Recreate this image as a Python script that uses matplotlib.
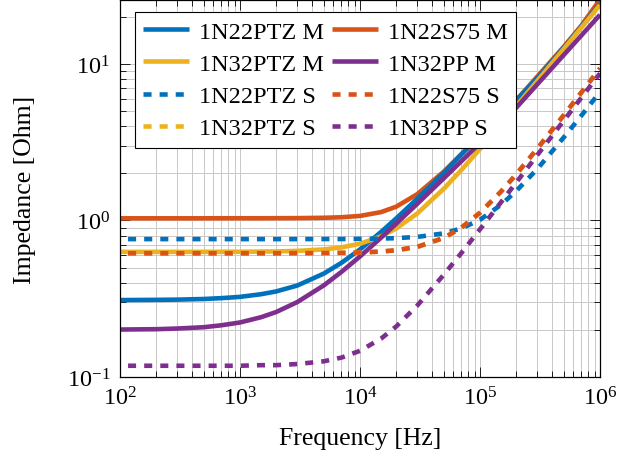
import matplotlib.pyplot as plt
from matplotlib.lines import Line2D

plt.rcParams['font.family'] = 'serif'
plt.rcParams['font.serif'] = ['Liberation Serif', 'DejaVu Serif']
plt.rcParams['mathtext.fontset'] = 'stix'
plt.rcParams['lines.scale_dashes'] = False

# frequency points [Hz]
freq = [1e2, 2e2, 3e2, 5e2, 7e2, 1e3, 1.5e3, 2e3, 3e3, 5e3, 7e3, 1e4,
        1.5e4, 2e4, 3e4, 5e4, 7e4, 1e5, 1.5e5, 2e5, 3e5, 5e5, 7e5, 1e6]

# impedance [Ohm], M = measured, S = simulated
n22ptz_m = [0.310, 0.311, 0.312, 0.315, 0.319, 0.325, 0.338, 0.352, 0.384, 0.458, 0.536, 0.653,
            0.845, 1.029, 1.375, 2.02, 2.64, 3.48, 4.72, 5.85, 8.1, 12.7, 17.3, 24.2]
n22s75_m = [1.032, 1.032, 1.032, 1.032, 1.033, 1.033, 1.033, 1.034, 1.035, 1.040, 1.048, 1.069,
            1.131, 1.224, 1.472, 2.053, 2.655, 3.487, 4.725, 5.853, 8.3, 12.9, 17.6, 25.8]
n32ptz_m = [0.630, 0.630, 0.630, 0.630, 0.631, 0.631, 0.633, 0.634, 0.639, 0.653, 0.673, 0.710,
            0.791, 0.888, 1.108, 1.597, 2.102, 2.864, 4.122, 5.362, 7.79, 12.5, 17.08, 23.8]
n32pp_m = [0.201, 0.202, 0.204, 0.208, 0.214, 0.223, 0.241, 0.260, 0.301, 0.385, 0.469, 0.589,
           0.777, 0.953, 1.278, 1.863, 2.391, 3.12, 4.225, 5.241, 7.40, 11.43, 15.21, 20.6]

n22ptz_s = [0.760, 0.760, 0.760, 0.760, 0.760, 0.760, 0.760, 0.760, 0.760, 0.761, 0.761, 0.763,
            0.766, 0.771, 0.785, 0.827, 0.890, 1.01, 1.26, 1.54, 2.13, 3.40, 4.68, 6.62]
n22s75_s = [0.617, 0.617, 0.617, 0.617, 0.617, 0.617, 0.617, 0.617, 0.618, 0.619, 0.621, 0.624,
            0.633, 0.645, 0.678, 0.774, 0.900, 1.120, 1.532, 1.969, 2.872, 4.716, 6.574, 9.37]
n32ptz_s = [0.617, 0.617, 0.617, 0.617, 0.617, 0.617, 0.617, 0.617, 0.618, 0.619, 0.621, 0.624,
            0.633, 0.645, 0.678, 0.774, 0.900, 1.120, 1.532, 1.969, 2.872, 4.716, 6.574, 9.37]
n32pp_s = [0.118, 0.118, 0.118, 0.118, 0.118, 0.118, 0.119, 0.119, 0.121, 0.126, 0.133, 0.147,
           0.176, 0.210, 0.286, 0.451, 0.620, 0.878, 1.310, 1.744, 2.613, 4.352, 6.091, 8.70]

blue = '#0072BD'
orange = '#D95319'
yellow = '#EDB120'
purple = '#7E2F8E'

lw = 3.3
dot = (5.8, (5.8, 5.8))
dot_leg = (0, (5.8, 5.8))

# drawing order (bottom to top)
series = [
    ('1N22S75 M', n22s75_m, orange, '-'),
    ('1N22PTZ M', n22ptz_m, blue, '-'),
    ('1N32PTZ M', n32ptz_m, yellow, '-'),
    ('1N32PP M', n32pp_m, purple, '-'),
    ('1N32PTZ S', n32ptz_s, yellow, dot),
    ('1N22PTZ S', n22ptz_s, blue, dot),
    ('1N22S75 S', n22s75_s, orange, dot),
    ('1N32PP S', n32pp_s, purple, dot),
]

fig, ax = plt.subplots(figsize=(6.31, 4.56), dpi=100)
fig.subplots_adjust(left=120 / 631, right=600 / 631, bottom=78 / 456, top=455 / 456)

styles = {}
for name, z, c, ls in series:
    ax.plot(freq, z, color=c, lw=lw, ls=ls, solid_capstyle='butt', dash_capstyle='butt',
            solid_joinstyle='round')
    styles[name] = (c, '-' if ls == '-' else dot_leg)

ax.set_xscale('log')
ax.set_yscale('log')
ax.set_xlim(1e2, 1e6)
ax.set_ylim(1e-1, 25.6)

ax.grid(True, which='both', color='#c8c8c8', lw=0.7)
ax.set_axisbelow(True)
ax.tick_params(which='both', direction='in', top=True, right=True, labelsize=17.5, width=0.6)
ax.tick_params(which='major', length=7, pad=7)
ax.tick_params(which='minor', length=4.5)
for sp in ax.spines.values():
    sp.set_linewidth(0.9)

ax.set_xlabel('Frequency [Hz]', fontsize=18.5)
ax.xaxis.set_label_coords(0.5, -0.162)
ax.xaxis.label.set_va('center')
ax.set_ylabel('Impedance [Ohm]', fontsize=18.5)
ax.yaxis.set_label_coords(-0.198, 0.5)
ax.yaxis.label.set_va('center')

# legend is filled column by column
leg_order = ['1N22PTZ M', '1N32PTZ M', '1N22PTZ S', '1N32PTZ S',
             '1N22S75 M', '1N32PP M', '1N22S75 S', '1N32PP S']
handles = [Line2D([], [], color=styles[n][0], lw=lw, ls=styles[n][1],
                  solid_capstyle='butt', dash_capstyle='butt') for n in leg_order]
leg = ax.legend(handles, leg_order, ncol=2, loc='upper left',
                bbox_to_anchor=(0.031, 0.968), fontsize=17.5, frameon=True,
                fancybox=False, edgecolor='black', framealpha=1,
                handlelength=1.86, handletextpad=0.42, columnspacing=0.35,
                labelspacing=0.42, borderpad=0.35, borderaxespad=0)
leg.get_frame().set_linewidth(0.8)

fig.savefig('out.png', dpi=100)
